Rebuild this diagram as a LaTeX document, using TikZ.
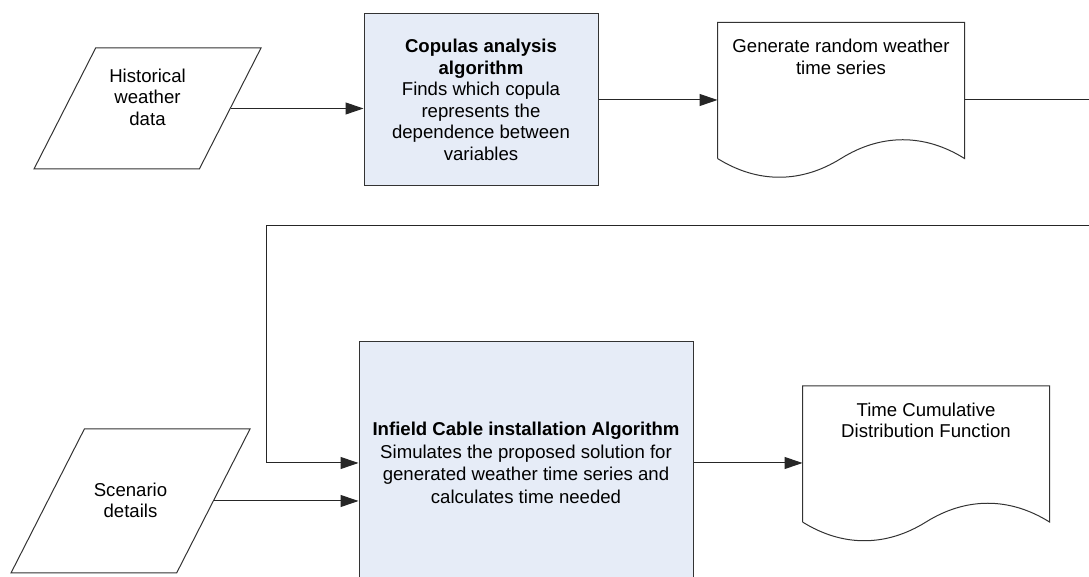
\documentclass[tikz,border=0pt]{standalone}
\usepackage{fontspec}
\setmainfont{Liberation Sans}
\usetikzlibrary{shapes.geometric,arrows.meta}
\definecolor{procfill}{RGB}{230,236,247}

\begin{document}
\begin{tikzpicture}[
        x=1pt, y=1pt,
        line width=1pt,
        font=\fontsize{18.6}{21.5}\selectfont,
        every node/.style={align=center},
        every label/.append style={inner sep=0pt},
        io box/.style={draw=black!80, trapezium, trapezium left angle=63, trapezium right angle=117, trapezium stretches body, inner xsep=0pt},
        process box/.style={draw=black!80, fill=procfill, inner sep=0pt},
        doc box/.style={inner sep=0pt, minimum width=246pt, minimum height=154pt},
        flow arrow/.style={draw=black!85, -{Triangle[length=18pt, width=12pt]}}
      ]

      \useasboundingbox (0,0) rectangle (1089,577);

      \node[io box, minimum width=227pt, inner ysep=60.5pt,
        label={[name=histtext, anchor=north, yshift=-21pt]north:Historical\\weather\\data}] (hist) at (147.5,468.5) {};
      \node[process box, minimum width=234pt, minimum height=172pt] (copula) at (481,477)
        {\textbf{Copulas analysis}\\\textbf{algorithm}\\Finds which copula\\represents the\\dependence between\\variables};
      \node[doc box, label={[name=gentext, anchor=north, yshift=-16.5pt]north:Generate random weather\\time series}] (gen) at (841,477) {};

      \node[io box, minimum width=239pt, inner ysep=72pt,
        label={[name=scentext, anchor=north, yshift=-54pt]north:Scenario\\details}] (scen) at (130.5,76) {};
      \node[process box, minimum width=334pt, minimum height=242pt, font=\fontsize{18.6}{22.5}\selectfont] (infield) at (526,114)
        {\textbf{Infield Cable installation Algorithm}\\Simulates the proposed solution for\\generated weather time series and\\calculates time needed};
      \node[doc box, label={[name=cdftext, anchor=north, yshift=-16.5pt]north:Time Cumulative\\Distribution Function}] (cdf) at (926,113.5) {};

      \foreach \d in {gen,cdf} {
          \draw [black!80] ([yshift=19pt]\d.south west) -- (\d.north west) -- (\d.north east) -- ([yshift=19pt]\d.south east)
            .. controls +(-40,25) and +(40,25) .. ([yshift=19pt]\d.south)
            .. controls +(-40,-25) and +(40,-25) .. ([yshift=19pt]\d.south west);
        }

      \coordinate (outside) at (1100,351);
      \coordinate (back) at (266,351);

      \draw [flow arrow] (hist.east) -- (hist.east -| copula.west);
      \draw [flow arrow] (copula.east) -- (gen.west);
      \draw [flow arrow] (gen.east) -| (outside) -- (back) |- (infield.west);
      \draw [flow arrow] (scen.east) -- (scen.east -| infield.west);
      \draw [flow arrow] (infield.east) -- (infield.east -| cdf.west);

    \end{tikzpicture}
\end{document}
